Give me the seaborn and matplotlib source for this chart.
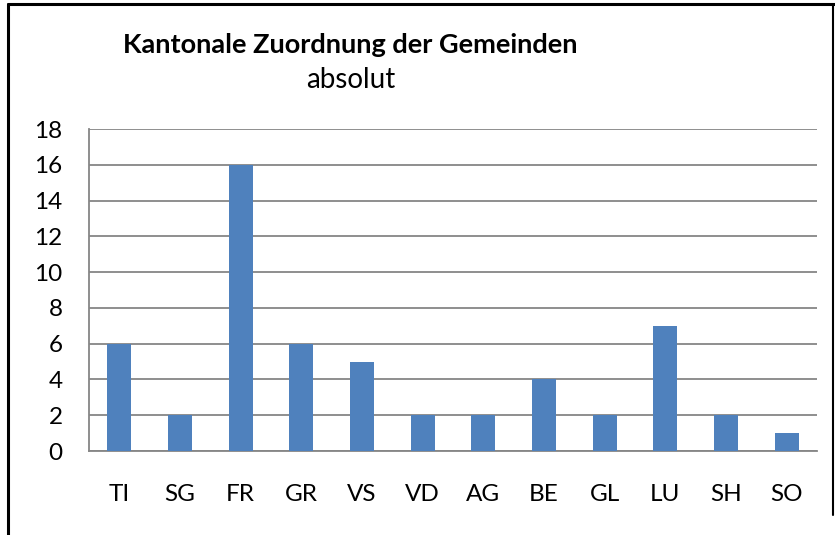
import matplotlib
matplotlib.use("Agg")
import matplotlib.pyplot as plt
import seaborn as sns
import pandas as pd
from matplotlib.lines import Line2D

cantons = ["TI", "SG", "FR", "GR", "VS", "VD", "AG", "BE", "GL", "LU", "SH", "SO"]
counts = [6, 2, 16, 6, 5, 2, 2, 4, 2, 7, 2, 1]
yticks = [0, 2, 4, 6, 8, 10, 12, 14, 16, 18]
title = "Kantonale Zuordnung der Gemeinden"
subtitle = "absolut"

sns.set_theme(style="white")
plt.rcParams['font.family'] = ['Lato', 'DejaVu Sans']

df = pd.DataFrame({"Kanton": cantons, "Anzahl": counts})

W, H = 835, 535
fig = plt.figure(figsize=(W / 100, H / 100), dpi=100)
ax = fig.add_axes([89 / W, 1 - 451 / H, (817 - 89) / W, (451 - 129) / H])

sns.barplot(data=df, x="Kanton", y="Anzahl", color="#4F81BD", saturation=1,
            width=0.4, linewidth=0, ax=ax, zorder=3)

ax.set_ylim(0, 18)
ax.set_yticks(yticks)
ax.set_xlim(-0.5, len(cantons) - 0.5)
ax.set_xlabel("")
ax.set_ylabel("")
ax.yaxis.grid(True, color="#868686", linewidth=1.3, zorder=0)
ax.set_axisbelow(True)
for s in ["top", "right"]:
    ax.spines[s].set_visible(False)
ax.spines["left"].set_color("#868686")
ax.spines["left"].set_linewidth(1.3)
ax.spines["bottom"].set_color("#868686")
ax.spines["bottom"].set_linewidth(1.3)
ax.tick_params(axis="both", length=0, labelsize=17.5, colors="black")
ax.tick_params(axis="y", pad=19)
ax.tick_params(axis="x", pad=24)

fig.text(350 / W, 1 - 45 / H, title, ha="center", va="center",
         fontsize=19.5, fontweight="bold", color="black")
fig.text(351 / W, 1 - 80 / H, subtitle, ha="center", va="center",
         fontsize=20, color="black")

# outer frame
fig.add_artist(Line2D([8 / W, 8 / W], [0, 1 - 4 / H], color="black", linewidth=2.2,
                      transform=fig.transFigure))
fig.add_artist(Line2D([8 / W, 1], [1 - 4 / H, 1 - 4 / H], color="black", linewidth=2.2,
                      transform=fig.transFigure))
fig.add_artist(Line2D([833 / W, 833 / W], [1 - 515 / H, 1 - 4 / H], color="black",
                      linewidth=1.5, transform=fig.transFigure))

fig.savefig("out.png", dpi=100)
